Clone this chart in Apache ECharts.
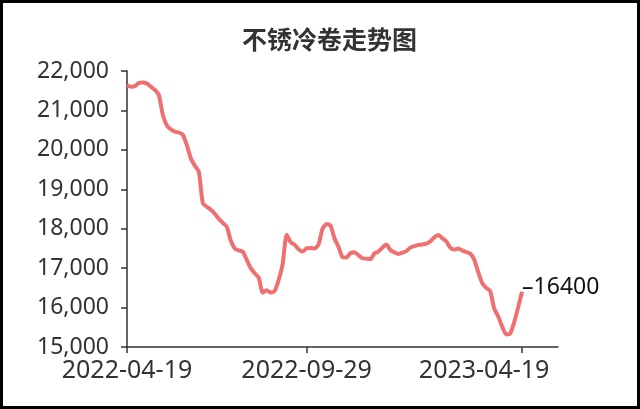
<!DOCTYPE html>
<html><head><meta charset="utf-8">
<script src="https://cdn.jsdelivr.net/npm/echarts@6/dist/echarts.min.js"></script>
<style>html,body{margin:0;padding:0;background:#fff}#c{width:640px;height:409px;position:absolute;left:0;top:0}#f{position:absolute;left:0;top:0;width:640px;height:409px;box-sizing:border-box;border:3px solid #000;pointer-events:none}</style>
</head><body><div id="c"></div><div id="f"></div>
<script>
const titleText = '不锈冷卷走势图';
const tickLabels = ['2022-04-19', '2022-09-29', '2023-04-19'];
const categories = [
 '2022-04-19','2022-04-23','2022-04-26','2022-04-30','2022-05-03','2022-05-07','2022-05-11','2022-05-14','2022-05-18','2022-05-22',
 '2022-05-25','2022-05-29','2022-06-01','2022-06-05','2022-06-09','2022-06-12','2022-06-16','2022-06-20','2022-06-23','2022-06-27',
 '2022-06-30','2022-07-04','2022-07-08','2022-07-11','2022-07-15','2022-07-19','2022-07-22','2022-07-26','2022-07-29','2022-08-02',
 '2022-08-06','2022-08-09','2022-08-13','2022-08-17','2022-08-20','2022-08-24','2022-08-27','2022-08-31','2022-09-04','2022-09-07',
 '2022-09-11','2022-09-15','2022-09-18','2022-09-22','2022-09-25','2022-09-29','2022-10-03','2022-10-06','2022-10-10','2022-10-14',
 '2022-10-18','2022-10-21','2022-10-25','2022-10-29','2022-11-02','2022-11-05','2022-11-09','2022-11-13','2022-11-17','2022-11-20',
 '2022-11-24','2022-11-28','2022-12-02','2022-12-05','2022-12-09','2022-12-13','2022-12-17','2022-12-20','2022-12-24','2022-12-28',
 '2023-01-01','2023-01-04','2023-01-08','2023-01-12','2023-01-15','2023-01-19','2023-01-23','2023-01-27','2023-01-30','2023-02-03',
 '2023-02-07','2023-02-11','2023-02-14','2023-02-18','2023-02-22','2023-02-26','2023-03-01','2023-03-05','2023-03-09','2023-03-13',
 '2023-03-16','2023-03-20','2023-03-24','2023-03-28','2023-03-31','2023-04-04','2023-04-08','2023-04-12','2023-04-15','2023-04-19',
 '2023-04-23','2023-04-26','2023-04-30','2023-05-04','2023-05-08','2023-05-11','2023-05-15','2023-05-19','2023-05-22'
];
const prices = [
 21640,21600,21620,21700,21710,21680,21600,21520,21380,20880,
 20620,20520,20460,20440,20380,20120,19780,19600,19440,18650,
 18555,18480,18380,18250,18150,18050,17700,17500,17450,17420,
 17210,17000,16870,16760,16380,16440,16380,16420,16700,17100,
 17850,17660,17590,17480,17420,17500,17510,17500,17600,18000,
 18120,18080,17750,17540,17280,17270,17380,17400,17330,17250,
 17240,17230,17370,17420,17520,17600,17460,17400,17360,17390,
 17430,17520,17560,17590,17600,17620,17680,17780,17840,17760,
 17680,17520,17470,17500,17450,17410,17370,17220,16900,16620,
 16500,16420,15980,15780,15520,15320,15340,15620,16000,16400
];
const yMin = 15000, yMax = 22000, yStep = 1000;

const chart = echarts.init(document.getElementById('c'), null, {renderer: 'canvas'});
const showTick = (i, v) => tickLabels.indexOf(v) >= 0;
const font = "'Noto Sans', 'Noto Sans CJK SC', sans-serif";
const xLabelStyle = {fontSize: 25, color: '#333', fontFamily: font};
chart.setOption({
  animation: false,
  backgroundColor: '#fff',
  title: {
    text: titleText, left: 237, top: 22,
    textStyle: {fontSize: 25, fontWeight: 'bold', color: '#333', fontFamily: "'Noto Sans CJK SC', sans-serif"}
  },
  grid: {left: 127, right: 82, top: 71, bottom: 62, containLabel: false},
  xAxis: {
    type: 'category', data: categories, boundaryGap: false,
    axisLine: {lineStyle: {color: '#333', width: 1.5}},
    axisTick: {show: true, interval: showTick, length: 6, lineStyle: {color: '#333', width: 1.5}},
    axisLabel: {
      interval: showTick, margin: 11, fontSize: 25, color: '#333', fontFamily: font,
      formatter: v => v === tickLabels[tickLabels.length - 1] ? '{last|' + v + '}' : v,
      rich: {last: Object.assign({padding: [0, 76, 0, 0]}, xLabelStyle)}
    },
    splitLine: {show: false}
  },
  yAxis: {
    type: 'value', min: yMin, max: yMax, interval: yStep,
    axisLine: {show: true, lineStyle: {color: '#333', width: 1.5}},
    axisTick: {show: true, length: 6, lineStyle: {color: '#333', width: 1.5}},
    axisLabel: {margin: 18, fontSize: 23, color: '#333', fontFamily: font},
    splitLine: {show: false}
  },
  series: [{
    type: 'line', data: prices, showSymbol: false, smooth: 0.2,
    lineStyle: {color: '#ee7070', width: 4},
    itemStyle: {color: '#ee7070'},
    endLabel: {show: true, formatter: p => '–' + p.value, distance: 0, offset: [0, -4],
      fontSize: 23, color: '#111', fontFamily: font}
  }]
});
</script>
</body></html>
